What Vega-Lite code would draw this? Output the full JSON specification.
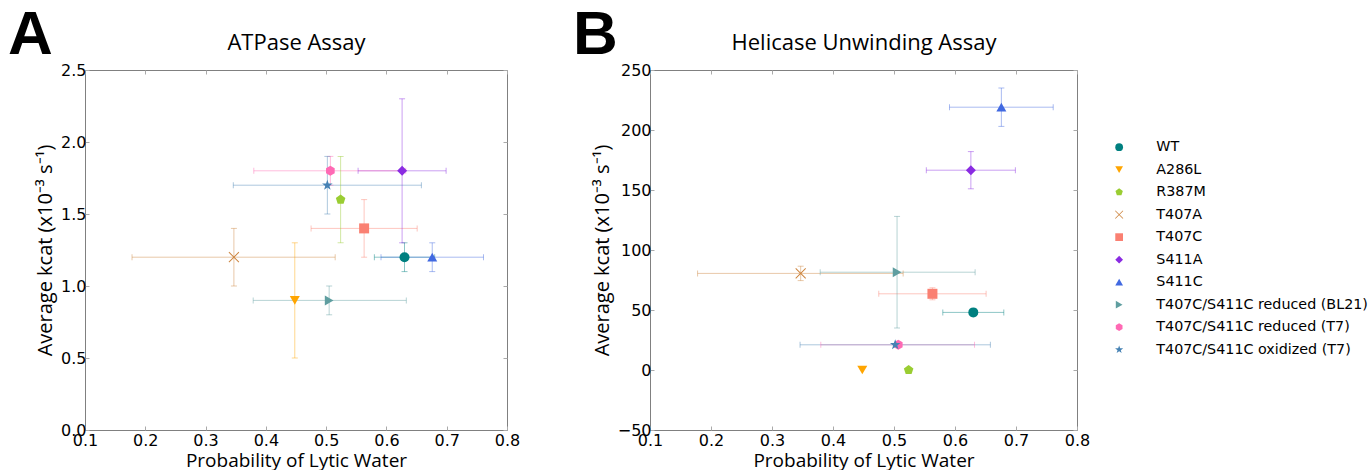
{
  "$schema": "https://vega.github.io/schema/vega-lite/v6.json",
  "padding": {"left": 7, "top": 3, "right": 0, "bottom": 0},
  "datasets": {
    "pts": [
      {"panel": "A", "series": "WT", "x": 0.63, "xlo": 0.58, "xhi": 0.68, "y": 1.2, "ylo": 1.1, "yhi": 1.3},
      {"panel": "A", "series": "A286L", "x": 0.448, "xlo": null, "xhi": null, "y": 0.9, "ylo": 0.5, "yhi": 1.3},
      {"panel": "A", "series": "R387M", "x": 0.524, "xlo": null, "xhi": null, "y": 1.6, "ylo": 1.3, "yhi": 1.9},
      {"panel": "A", "series": "T407A", "x": 0.347, "xlo": 0.178, "xhi": 0.515, "y": 1.2, "ylo": 1.0, "yhi": 1.4},
      {"panel": "A", "series": "T407C", "x": 0.563, "xlo": 0.475, "xhi": 0.651, "y": 1.4, "ylo": 1.2, "yhi": 1.6},
      {"panel": "A", "series": "S411A", "x": 0.626, "xlo": 0.553, "xhi": 0.699, "y": 1.8, "ylo": 1.3, "yhi": 2.3},
      {"panel": "A", "series": "S411C", "x": 0.676, "xlo": 0.591, "xhi": 0.761, "y": 1.2, "ylo": 1.1, "yhi": 1.3},
      {"panel": "A", "series": "T407C/S411C reduced (BL21)", "x": 0.505, "xlo": 0.379, "xhi": 0.633, "y": 0.9, "ylo": 0.8, "yhi": 1.0},
      {"panel": "A", "series": "T407C/S411C reduced (T7)", "x": 0.507, "xlo": 0.38, "xhi": 0.632, "y": 1.8, "ylo": 1.7, "yhi": 1.9},
      {"panel": "A", "series": "T407C/S411C oxidized (T7)", "x": 0.502, "xlo": 0.346, "xhi": 0.658, "y": 1.7, "ylo": 1.5, "yhi": 1.9},
      {"panel": "B", "series": "WT", "x": 0.63, "xlo": 0.58, "xhi": 0.68, "y": 48, "ylo": 45, "yhi": 51},
      {"panel": "B", "series": "A286L", "x": 0.448, "xlo": null, "xhi": null, "y": 0, "ylo": null, "yhi": null},
      {"panel": "B", "series": "R387M", "x": 0.524, "xlo": null, "xhi": null, "y": 0, "ylo": null, "yhi": null},
      {"panel": "B", "series": "T407A", "x": 0.347, "xlo": 0.178, "xhi": 0.515, "y": 80.5, "ylo": 74.5, "yhi": 86.5},
      {"panel": "B", "series": "T407C", "x": 0.563, "xlo": 0.475, "xhi": 0.651, "y": 63.5, "ylo": 58.5, "yhi": 68.5},
      {"panel": "B", "series": "S411A", "x": 0.626, "xlo": 0.553, "xhi": 0.699, "y": 166.5, "ylo": 151, "yhi": 182},
      {"panel": "B", "series": "S411C", "x": 0.676, "xlo": 0.591, "xhi": 0.761, "y": 219, "ylo": 203, "yhi": 235},
      {"panel": "B", "series": "T407C/S411C reduced (BL21)", "x": 0.505, "xlo": 0.379, "xhi": 0.633, "y": 81.5, "ylo": 35, "yhi": 128},
      {"panel": "B", "series": "T407C/S411C reduced (T7)", "x": 0.507, "xlo": 0.38, "xhi": 0.632, "y": 21, "ylo": null, "yhi": null},
      {"panel": "B", "series": "T407C/S411C oxidized (T7)", "x": 0.502, "xlo": 0.346, "xhi": 0.658, "y": 21, "ylo": null, "yhi": null}
    ]
  },
  "config": {
    "view": {"stroke": "#808080", "strokeWidth": 1},
    "axis": {
      "domain": false, "grid": false, "tickColor": "#aaaaaa", "tickSize": -4,
      "labelFont": "DejaVu Sans", "labelFontSize": 16, "labelColor": "#000000",
      "titleFont": "Open Sans", "titleFontSize": 19, "titleFontWeight": "normal", "titleColor": "#000000",
      "labelFlush": false, "labelOverlap": false, "labelBound": false, "labelPadding": 3
    },
    "title": {"font": "Liberation Sans", "fontSize": 62, "fontWeight": "bold", "color": "#000000", "anchor": "start", "frame": "group"},
    "tick": {"thickness": 1}
  },
  "resolve": {"legend": {"color": "independent", "shape": "independent"}},
  "spacing": 51,
  "hconcat": [
    {
      "width": 422, "height": 360,
      "title": {"text": "A", "dx": -77, "offset": -35},
      "data": {"name": "pts"},
      "transform": [{"filter": "datum.panel == 'A'"}],
      "resolve": {"axis": {"x": "independent", "y": "independent"}},
      "layer": [
        {
          "transform": [{"filter": "datum.xlo != null"}],
          "mark": {"type": "rule", "opacity": 0.45, "strokeWidth": 1},
          "encoding": {
            "x": {"field": "xlo", "type": "quantitative", "scale": {"domain": [0.1, 0.8], "nice": false, "zero": false}, "axis": {"orient": "bottom", "values": [0.1, 0.2, 0.3, 0.4, 0.5, 0.6, 0.7, 0.8], "format": ".1f", "title": "Probability of Lytic Water", "labelPadding": 6, "titlePadding": 3}},
            "x2": {"field": "xhi"},
            "y": {"field": "y", "type": "quantitative", "scale": {"domain": [0, 2.5], "nice": false, "zero": false}, "axis": {"orient": "left", "values": [0, 0.5, 1, 1.5, 2, 2.5], "format": ".1f", "title": "Average kcat  (x10⁻³  s⁻¹)", "titleFontSize": 20, "titlePadding": 5}},
            "stroke": {"field": "series", "type": "nominal", "legend": null, "scale": {"domain": ["WT", "A286L", "R387M", "T407A", "T407C", "S411A", "S411C", "T407C/S411C reduced (BL21)", "T407C/S411C reduced (T7)", "T407C/S411C oxidized (T7)"], "range": ["#008080", "#FFA500", "#9ACD32", "#CD853F", "#FA8072", "#8A2BE2", "#4169E1", "#5F9EA0", "#FF69B4", "#4682B4"]}}
          }
        },
        {
          "transform": [{"filter": "datum.ylo != null"}],
          "mark": {"type": "rule", "opacity": 0.45, "strokeWidth": 1},
          "encoding": {
            "x": {"field": "x", "type": "quantitative", "axis": null},
            "y": {"field": "ylo", "type": "quantitative", "axis": null},
            "y2": {"field": "yhi"},
            "stroke": {"field": "series", "type": "nominal", "legend": null}
          }
        },
        {
          "transform": [{"filter": "datum.xlo != null"}, {"fold": ["xlo", "xhi"], "as": ["end", "xc"]}],
          "mark": {"type": "tick", "orient": "vertical", "size": 6, "thickness": 1, "opacity": 0.45},
          "encoding": {
            "x": {"field": "xc", "type": "quantitative", "axis": null},
            "y": {"field": "y", "type": "quantitative", "axis": null},
            "fill": {"field": "series", "type": "nominal", "legend": null, "scale": {"domain": ["WT", "A286L", "R387M", "T407A", "T407C", "S411A", "S411C", "T407C/S411C reduced (BL21)", "T407C/S411C reduced (T7)", "T407C/S411C oxidized (T7)"], "range": ["#008080", "#FFA500", "#9ACD32", "#CD853F", "#FA8072", "#8A2BE2", "#4169E1", "#5F9EA0", "#FF69B4", "#4682B4"]}}
          }
        },
        {
          "transform": [{"filter": "datum.ylo != null"}, {"fold": ["ylo", "yhi"], "as": ["end", "yc"]}],
          "mark": {"type": "tick", "orient": "horizontal", "size": 6, "thickness": 1, "opacity": 0.45},
          "encoding": {
            "x": {"field": "x", "type": "quantitative", "axis": null},
            "y": {"field": "yc", "type": "quantitative", "axis": null},
            "fill": {"field": "series", "type": "nominal", "legend": null}
          }
        },
        {
          "mark": {"type": "point", "filled": true, "size": 100, "opacity": 1},
          "encoding": {
            "x": {"field": "x", "type": "quantitative", "axis": {"orient": "top", "labels": false, "values": [0.1, 0.2, 0.3, 0.4, 0.5, 0.6, 0.7, 0.8], "title": "ATPase Assay", "titleFontSize": 22, "titlePadding": 15}},
            "y": {"field": "y", "type": "quantitative", "axis": {"orient": "right", "labels": false, "values": [0, 0.5, 1, 1.5, 2, 2.5], "title": null}},
            "color": {"field": "series", "type": "nominal", "legend": null, "scale": {"domain": ["WT", "A286L", "R387M", "T407A", "T407C", "S411A", "S411C", "T407C/S411C reduced (BL21)", "T407C/S411C reduced (T7)", "T407C/S411C oxidized (T7)"], "range": ["#008080", "#FFA500", "#9ACD32", "#CD853F", "#FA8072", "#8A2BE2", "#4169E1", "#5F9EA0", "#FF69B4", "#4682B4"]}},
            "shape": {"field": "series", "type": "nominal", "legend": null, "scale": {"domain": ["WT", "A286L", "R387M", "T407A", "T407C", "S411A", "S411C", "T407C/S411C reduced (BL21)", "T407C/S411C reduced (T7)", "T407C/S411C oxidized (T7)"], "range": ["circle", "triangle-down", "M0,-1L0.951,-0.309L0.588,0.809L-0.588,0.809L-0.951,-0.309Z", "M-0.93,-1.07L1.07,0.93L0.93,1.07L-1.07,-0.93ZM1.07,-0.93L-0.93,1.07L-1.07,0.93L0.93,-1.07Z", "square", "diamond", "triangle-up", "triangle-right", "M0,-1L0.866,-0.5L0.866,0.5L0,1L-0.866,0.5L-0.866,-0.5Z", "M0,-1.1L0.26,-0.36L1.05,-0.34L0.42,0.14L0.65,0.89L0,0.44L-0.65,0.89L-0.42,0.14L-1.05,-0.34L-0.26,-0.36Z"]}}
          }
        }
      ]
    },
    {
      "width": 427, "height": 360,
      "title": {"text": "B", "dx": -77, "offset": -35},
      "data": {"name": "pts"},
      "transform": [{"filter": "datum.panel == 'B'"}],
      "resolve": {"axis": {"x": "independent", "y": "independent"}},
      "layer": [
        {
          "transform": [{"filter": "datum.xlo != null"}],
          "mark": {"type": "rule", "opacity": 0.45, "strokeWidth": 1},
          "encoding": {
            "x": {"field": "xlo", "type": "quantitative", "scale": {"domain": [0.1, 0.8], "nice": false, "zero": false}, "axis": {"orient": "bottom", "values": [0.1, 0.2, 0.3, 0.4, 0.5, 0.6, 0.7, 0.8], "format": ".1f", "title": "Probability of Lytic Water", "labelPadding": 6, "titlePadding": 3}},
            "x2": {"field": "xhi"},
            "y": {"field": "y", "type": "quantitative", "scale": {"domain": [-50, 250], "nice": false, "zero": false}, "axis": {"orient": "left", "values": [-50, 0, 50, 100, 150, 200, 250], "format": "d", "title": "Average kcat  (x10⁻³  s⁻¹)", "titleFontSize": 20, "titlePadding": 5}},
            "stroke": {"field": "series", "type": "nominal", "legend": null}
          }
        },
        {
          "transform": [{"filter": "datum.ylo != null"}],
          "mark": {"type": "rule", "opacity": 0.45, "strokeWidth": 1},
          "encoding": {
            "x": {"field": "x", "type": "quantitative", "axis": null},
            "y": {"field": "ylo", "type": "quantitative", "axis": null},
            "y2": {"field": "yhi"},
            "stroke": {"field": "series", "type": "nominal", "legend": null}
          }
        },
        {
          "transform": [{"filter": "datum.xlo != null"}, {"fold": ["xlo", "xhi"], "as": ["end", "xc"]}],
          "mark": {"type": "tick", "orient": "vertical", "size": 6, "thickness": 1, "opacity": 0.45},
          "encoding": {
            "x": {"field": "xc", "type": "quantitative", "axis": null},
            "y": {"field": "y", "type": "quantitative", "axis": null},
            "fill": {"field": "series", "type": "nominal", "legend": null}
          }
        },
        {
          "transform": [{"filter": "datum.ylo != null"}, {"fold": ["ylo", "yhi"], "as": ["end", "yc"]}],
          "mark": {"type": "tick", "orient": "horizontal", "size": 6, "thickness": 1, "opacity": 0.45},
          "encoding": {
            "x": {"field": "x", "type": "quantitative", "axis": null},
            "y": {"field": "yc", "type": "quantitative", "axis": null},
            "fill": {"field": "series", "type": "nominal", "legend": null}
          }
        },
        {
          "mark": {"type": "point", "filled": true, "size": 100, "opacity": 1},
          "encoding": {
            "x": {"field": "x", "type": "quantitative", "axis": {"orient": "top", "labels": false, "values": [0.1, 0.2, 0.3, 0.4, 0.5, 0.6, 0.7, 0.8], "title": "Helicase Unwinding Assay", "titleFontSize": 22, "titlePadding": 15}},
            "y": {"field": "y", "type": "quantitative", "axis": {"orient": "right", "labels": false, "values": [-50, 0, 50, 100, 150, 200, 250], "title": null}},
            "color": {"field": "series", "type": "nominal", "legend": {"title": null, "orient": "none", "legendX": 462, "legendY": 70, "padding": 0, "labelFont": "DejaVu Sans", "labelFontSize": 14.3, "labelColor": "#000000", "labelLimit": 0, "symbolSize": 60, "rowPadding": 7.5, "labelOffset": 30, "symbolStrokeWidth": 0}},
            "shape": {"field": "series", "type": "nominal", "legend": {"title": null, "orient": "none", "legendX": 462, "legendY": 70, "padding": 0, "labelFont": "DejaVu Sans", "labelFontSize": 14.3, "labelColor": "#000000", "labelLimit": 0, "symbolSize": 60, "rowPadding": 7.5, "labelOffset": 30, "symbolStrokeWidth": 0}}
          }
        }
      ]
    }
  ]
}
